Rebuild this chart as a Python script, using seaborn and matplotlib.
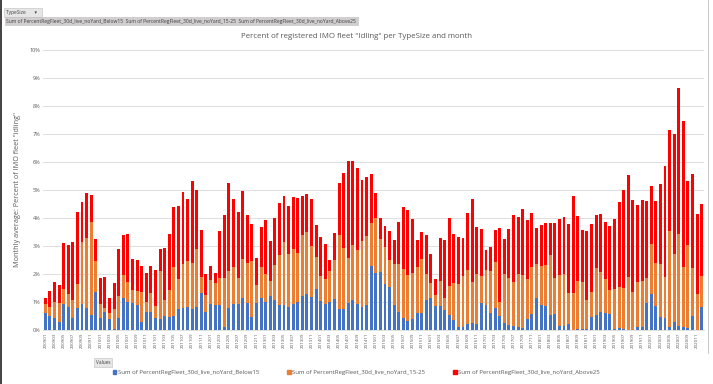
import numpy as np
import pandas as pd
import matplotlib
matplotlib.use("Agg")
import matplotlib.pyplot as plt
import matplotlib.patches as mpatches
import seaborn as sns

# months 200901 .. 202012
months = [f"{y}{m:02d}" for y in range(2009, 2021) for m in range(1, 13)]

# percent of fleet idling
below15 = [0.60, 0.50, 0.44, 0.29, 0.92, 0.83, 0.44, 0.80, 0.92, 0.77, 0.54, 1.36,
           0.42, 0.64, 0.38, 0.02, 0.42, 1.15, 1.01, 0.98, 0.89, 0.30, 0.65, 0.63,
           0.42, 0.39, 0.51, 0.48, 0.50, 0.76, 0.80, 0.83, 0.76, 0.81, 1.31, 0.65,
           0.92, 0.88, 0.88, 0.11, 0.79, 0.92, 0.92, 1.15, 0.95, 0.48, 0.98, 1.15,
           1.00, 1.21, 1.07, 0.89, 0.88, 0.82, 0.94, 1.00, 1.20, 1.27, 1.19, 1.45,
           1.04, 0.94, 0.99, 1.12, 0.74, 0.76, 0.95, 1.07, 0.92, 0.83, 0.88, 2.29,
           2.05, 2.07, 1.65, 1.55, 0.88, 0.65, 0.42, 0.32, 0.40, 0.62, 0.60, 1.06,
           1.15, 0.86, 0.86, 0.71, 0.54, 0.35, 0.12, 0.12, 0.20, 0.24, 0.20, 0.95,
           0.88, 0.62, 0.80, 0.50, 0.26, 0.18, 0.14, 0.12, 0.06, 0.38, 0.58, 1.15,
           0.88, 0.86, 0.54, 0.56, 0.14, 0.15, 0.20, 0.00, 0.02, 0.02, 0.02, 0.48,
           0.53, 0.65, 0.59, 0.56, 0.02, 0.08, 0.02, 0.00, 0.00, 0.10, 0.10, 0.97,
           1.27, 0.86, 0.45, 0.44, 0.12, 0.27, 0.15, 0.12, 0.08, 0.50, 0.00, 0.81]
mid15_25 = [0.32, 0.33, 0.56, 0.66, 0.56, 0.44, 0.63, 0.83, 2.22, 2.53, 3.32, 1.10,
            0.50, 0.16, 0.24, 0.72, 0.79, 0.80, 0.72, 0.45, 0.50, 1.07, 0.35, 0.70,
            0.44, 1.71, 0.55, 0.94, 1.76, 1.07, 1.55, 1.63, 1.64, 2.09, 0.58, 0.59,
            0.87, 0.79, 0.99, 1.76, 1.31, 1.34, 0.95, 1.37, 1.43, 1.98, 0.64, 1.10,
            0.99, 0.54, 1.24, 1.78, 2.26, 1.88, 1.94, 1.76, 2.20, 2.23, 1.81, 1.17,
            0.89, 0.89, 1.11, 1.38, 2.65, 2.18, 1.63, 1.97, 1.93, 2.35, 2.48, 1.52,
            1.94, 1.19, 1.33, 0.94, 1.47, 1.70, 1.75, 1.63, 1.65, 1.64, 1.92, 0.93,
            0.54, 0.39, 0.89, 0.44, 1.03, 1.34, 1.51, 1.81, 1.94, 1.47, 1.79, 0.98,
            1.26, 1.48, 1.63, 0.50, 1.73, 1.69, 1.57, 1.87, 1.89, 1.43, 1.68, 1.20,
            1.41, 1.45, 2.13, 1.31, 1.81, 1.85, 1.11, 1.31, 1.74, 1.70, 1.05, 0.86,
            1.70, 1.43, 1.22, 0.87, 1.44, 1.46, 1.49, 1.90, 1.34, 1.62, 1.65, 0.87,
            1.79, 1.54, 1.90, 1.46, 3.42, 2.43, 3.29, 2.14, 2.95, 1.70, 1.27, 1.11]
above25 = [0.21, 0.57, 0.71, 0.65, 1.62, 1.75, 2.08, 2.58, 1.44, 1.60, 0.96, 0.80,
           0.94, 1.08, 0.53, 0.93, 1.69, 1.44, 1.71, 1.09, 1.10, 0.92, 1.02, 0.96,
           1.27, 0.78, 1.86, 2.00, 2.14, 2.60, 2.59, 2.21, 2.92, 2.10, 1.68, 0.77,
           0.51, 0.37, 1.65, 2.23, 3.16, 2.43, 2.34, 2.44, 1.72, 1.34, 0.96, 1.43,
           1.94, 1.43, 1.70, 1.85, 1.65, 1.73, 1.88, 1.97, 1.40, 1.35, 1.69, 1.14,
           1.38, 1.24, 0.39, 0.98, 1.85, 2.68, 3.44, 2.98, 2.92, 2.18, 2.12, 1.75,
           0.89, 0.75, 0.73, 1.05, 0.86, 1.52, 2.22, 2.32, 1.90, 0.94, 0.98, 1.40,
           1.01, 0.56, 1.55, 2.06, 2.44, 1.75, 1.69, 1.37, 2.03, 2.96, 1.70, 1.67,
           0.71, 0.88, 1.13, 2.65, 1.25, 1.73, 2.39, 2.06, 2.36, 2.12, 1.93, 1.28,
           1.46, 1.50, 1.14, 1.94, 2.00, 2.04, 2.49, 3.48, 2.31, 1.84, 2.46, 2.44,
           1.89, 2.08, 2.05, 2.29, 2.52, 3.03, 3.50, 3.62, 3.32, 2.73, 2.91, 2.77,
           2.07, 2.20, 2.88, 3.94, 3.62, 4.31, 5.21, 5.22, 2.29, 3.36, 2.86, 2.57]

series_names = ["Sum of PercentRegFleet_30d_live_noYard_Below15",
                "Sum of PercentRegFleet_30d_live_noYard_15-25",
                "Sum of PercentRegFleet_30d_live_noYard_Above25"]
colors = ["#4472C4", "#ED7D31", "#FF0000"]
yticks = list(range(0, 11))

df = pd.DataFrame({"month": months, "b": below15, "m": mid15_25, "a": above25})
df["cum_m"] = df["b"] + df["m"]
df["cum_a"] = df["cum_m"] + df["a"]

plt.rcParams["font.family"] = ["Open Sans", "DejaVu Sans"]
txt = "#595959"

fig = plt.figure(figsize=(7.13, 3.84), dpi=100)
ax = fig.add_axes([0.0603, 0.1406, 0.9271, 0.7292])

# stacked look: draw totals first, then the lower parts over them
for col, c in zip(["cum_a", "cum_m", "b"], colors[::-1]):
    sns.barplot(data=df, x="month", y=col, order=months, color=c,
                width=0.64, saturation=1, ax=ax, linewidth=0)

ax.set_ylim(0, 10)
ax.set_xlim(-0.5, len(months) - 0.5)
ax.set_yticks(yticks)
ax.set_yticklabels([f"{t}%" for t in yticks], fontsize=4, color=txt)
ax.set_xticks(range(0, len(months), 2))
ax.set_xticklabels(months[::2], rotation=90, fontsize=3.2, color=txt)
ax.tick_params(length=0, pad=2)
ax.grid(axis="y", color="#D9D9D9", linewidth=0.6)
ax.set_axisbelow(True)
for s in ["top", "right", "left"]:
    ax.spines[s].set_visible(False)
ax.spines["bottom"].set_color("#D9D9D9")
ax.spines["bottom"].set_linewidth(0.6)
ax.set_xlabel("")
ax.set_ylabel('Monthly average: Percent of IMO fleet "idling"', fontsize=5.2,
              color=txt, labelpad=6)

fig.text(0.5, 0.906, 'Percent of registered IMO fleet "Idling" per TypeSize and month',
         ha="center", va="center", fontsize=5.7, color=txt)

# pivot chart field buttons
fig.text(0.009, 0.968, "TypeSize       \u25BE  ", fontsize=3.5, color="#404040", va="center",
         bbox=dict(boxstyle="square,pad=0.4", fc="#E7E6E6", ec="#BFBFBF", lw=0.4))
fig.text(0.009, 0.945, "  ".join(series_names), fontsize=3.6, color="#404040", va="center",
         bbox=dict(boxstyle="square,pad=0.3", fc="#D0CECE", ec="#BFBFBF", lw=0.4))
fig.text(0.134, 0.057, "Values", fontsize=3.4, color="#404040", va="center",
         bbox=dict(boxstyle="square,pad=0.4", fc="#E7E6E6", ec="#BFBFBF", lw=0.4))

handles = [mpatches.Patch(color=c, label=n) for c, n in zip(colors, series_names)]
fig.legend(handles=handles, loc="center", bbox_to_anchor=(0.5, 0.03), ncol=3,
           frameon=False, fontsize=4.3, handlelength=0.6, handleheight=0.6,
           handletextpad=0.3, columnspacing=4.6, labelcolor=txt)

# window edges from the screenshot
fig.add_artist(plt.Line2D([0.002, 0.002], [0, 1], color="#222222", lw=1.2))
fig.add_artist(plt.Line2D([0.993, 0.993], [0.08, 1], color="#BFBFBF", lw=0.6))

fig.savefig("out.png", dpi=100, facecolor="white")
